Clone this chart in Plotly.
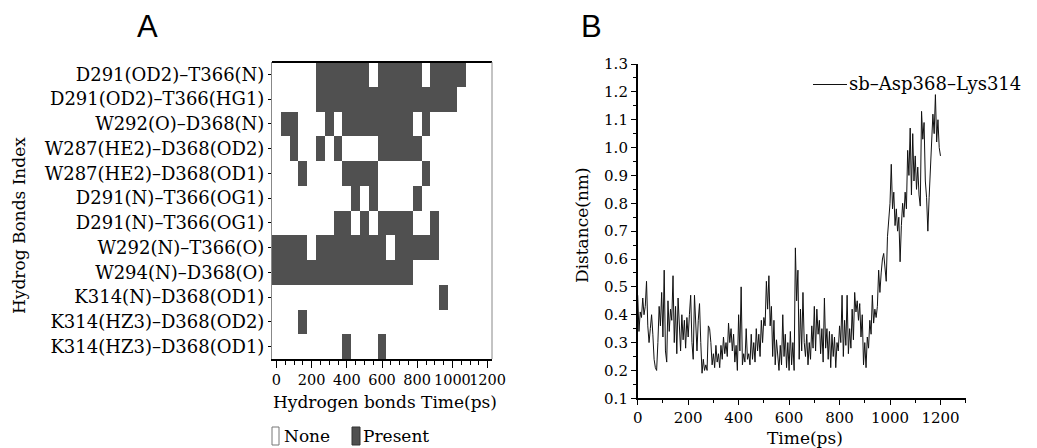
import plotly.graph_objects as go

W, H = 1037, 448
SERIF = "DejaVu Serif"

# ---------------- Panel A data ----------------
bond_labels = [
    "D291(OD2)–T366(N)",
    "D291(OD2)–T366(HG1)",
    "W292(O)–D368(N)",
    "W287(HE2)–D368(OD2)",
    "W287(HE2)–D368(OD1)",
    "D291(N)–T366(OG1)",
    "D291(N)–T366(OG1)",
    "W292(N)–T366(O)",
    "W294(N)–D368(O)",
    "K314(N)–D368(OD1)",
    "K314(HZ3)–D368(OD2)",
    "K314(HZ3)–D368(OD1)",
]
hb_time = list(range(0, 1201, 50))  # bin centres, ps
hb_present = [
    [0,0,0,0,0,1,1,1,1,1,1,0,1,1,1,1,1,0,1,1,1,1,0,0,0],
    [0,0,0,0,0,1,1,1,1,1,1,1,1,1,1,1,1,1,1,1,1,0,0,0,0],
    [0,1,1,0,0,0,1,0,1,1,1,1,1,1,1,1,0,1,0,0,0,0,0,0,0],
    [0,0,1,0,0,1,0,1,0,0,0,0,1,1,1,1,1,0,0,0,0,0,0,0,0],
    [0,0,0,1,0,0,0,0,1,1,1,1,0,0,0,0,0,1,0,0,0,0,0,0,0],
    [0,0,0,0,0,0,0,0,0,1,0,1,0,0,0,0,1,0,0,0,0,0,0,0,0],
    [0,0,0,0,0,0,0,1,1,0,1,0,1,1,1,1,0,0,1,0,0,0,0,0,0],
    [1,1,1,1,0,1,1,1,1,1,1,1,1,0,1,1,1,1,1,0,0,0,0,0,0],
    [1,1,1,1,1,1,1,1,1,1,1,1,1,1,1,1,0,0,0,0,0,0,0,0,0],
    [0,0,0,0,0,0,0,0,0,0,0,0,0,0,0,0,0,0,0,1,0,0,0,0,0],
    [0,0,0,1,0,0,0,0,0,0,0,0,0,0,0,0,0,0,0,0,0,0,0,0,0],
    [0,0,0,0,0,0,0,0,1,0,0,0,1,0,0,0,0,0,0,0,0,0,0,0,0],
]
hb_xticks = [0, 200, 400, 600, 800, 1000, 1200]

# ---------------- Panel B data ----------------
dist_time = list(range(0, 1201, 5))
dist_nm = [
    0.47, 0.34, 0.41, 0.39, 0.46, 0.40, 0.43, 0.52, 0.36, 0.30,
    0.35, 0.40, 0.33, 0.24, 0.21, 0.20, 0.30, 0.43, 0.36, 0.48,
    0.32, 0.56, 0.27, 0.23, 0.45, 0.34, 0.42, 0.38, 0.54, 0.30,
    0.43, 0.26, 0.46, 0.35, 0.27, 0.40, 0.31, 0.38, 0.28, 0.39,
    0.32, 0.40, 0.47, 0.30, 0.24, 0.47, 0.33, 0.27, 0.38, 0.44,
    0.30, 0.19, 0.24, 0.20, 0.22, 0.20, 0.36, 0.35, 0.30, 0.22,
    0.26, 0.21, 0.29, 0.23, 0.26, 0.21, 0.29, 0.24, 0.32, 0.26,
    0.30, 0.25, 0.37, 0.30, 0.35, 0.27, 0.33, 0.23, 0.29, 0.20,
    0.40, 0.27, 0.50, 0.22, 0.26, 0.23, 0.35, 0.24, 0.26, 0.22,
    0.33, 0.24, 0.30, 0.23, 0.35, 0.27, 0.33, 0.25, 0.38, 0.30,
    0.39, 0.36, 0.52, 0.42, 0.54, 0.36, 0.43, 0.25, 0.38, 0.22,
    0.31, 0.25, 0.20, 0.29, 0.22, 0.40, 0.25, 0.33, 0.21, 0.30,
    0.20, 0.34, 0.22, 0.30, 0.20, 0.64, 0.45, 0.56, 0.24, 0.42,
    0.27, 0.48, 0.30, 0.25, 0.33, 0.22, 0.30, 0.24, 0.36, 0.28,
    0.43, 0.27, 0.42, 0.33, 0.38, 0.26, 0.35, 0.23, 0.46, 0.28,
    0.35, 0.24, 0.34, 0.21, 0.33, 0.25, 0.32, 0.21, 0.30, 0.27,
    0.36, 0.30, 0.47, 0.25, 0.38, 0.29, 0.47, 0.26, 0.35, 0.28,
    0.42, 0.31, 0.48, 0.41, 0.45, 0.38, 0.44, 0.32, 0.40, 0.22,
    0.30, 0.21, 0.32, 0.28, 0.38, 0.33, 0.47, 0.37, 0.42, 0.39,
    0.43, 0.56, 0.48, 0.55, 0.60, 0.62, 0.58, 0.52, 0.68, 0.73,
    0.80, 0.94, 0.78, 0.84, 0.72, 0.78, 0.70, 0.75, 0.59, 0.72,
    0.80, 0.75, 0.84, 0.78, 0.99, 0.90, 1.07, 0.83, 1.05, 0.88,
    0.97, 0.85, 0.93, 0.83, 0.79, 1.13, 1.03, 1.09, 0.88, 0.82,
    0.70, 0.82, 0.91, 1.04, 1.12, 1.05, 1.19, 1.02, 1.10, 1.00,
    0.97,
]
dist_xticks = [0, 200, 400, 600, 800, 1000, 1200]
dist_yticks = [0.1, 0.2, 0.3, 0.4, 0.5, 0.6, 0.7, 0.8, 0.9, 1.0, 1.1, 1.2, 1.3]
series_name = "sb–Asp368–Lys314"


def px(x):
    return x / W


def py(y):
    return 1 - y / H


fig = go.Figure()

fig.add_trace(go.Heatmap(
    x=hb_time, y=list(range(len(bond_labels))), z=hb_present,
    colorscale=[[0, "#ffffff"], [1, "#505050"]], zmin=0, zmax=1,
    showscale=False, hoverinfo="skip", xaxis="x", yaxis="y",
))

fig.add_trace(go.Scatter(
    x=dist_time, y=dist_nm, mode="lines", name=series_name,
    line=dict(color="#111111", width=1), xaxis="x2", yaxis="y2",
    showlegend=False,
))

tickfont = dict(family=SERIF, size=15, color="black")

fig.update_layout(
    width=W, height=H, margin=dict(l=0, r=0, t=0, b=0, autoexpand=False),
    paper_bgcolor="white", plot_bgcolor="white",
    font=dict(family=SERIF, color="black"),
    xaxis=dict(
        domain=[px(272), px(492)], anchor="y", range=[-25, 1225],
        tickvals=hb_xticks, ticks="outside", ticklen=7, tickwidth=1,
        tickcolor="black", showline=True, linecolor="black", linewidth=1.5,
        showgrid=False, zeroline=False, tickangle=0, automargin=False,
        tickfont=dict(family=SERIF, size=14.5, color="black"),
        minor=dict(dtick=50, tick0=0, ticks="outside", ticklen=4,
                   tickcolor="black", showgrid=False),
    ),
    yaxis=dict(
        domain=[py(359), py(62)], anchor="x", automargin=False,
        range=[len(bond_labels) - 0.5, -0.5],
        tickvals=list(range(len(bond_labels))), ticktext=bond_labels,
        ticks="outside", ticklen=3, tickcolor="black",
        showline=True, linecolor="#888888", linewidth=1,
        showgrid=False, zeroline=False,
        tickfont=dict(family=SERIF, size=18, color="black"),
    ),
    xaxis2=dict(
        domain=[px(637.7), px(965.7)], anchor="y2", range=[0, 1300],
        tickvals=dist_xticks, ticks="outside", ticklen=5, tickcolor="black",
        showline=True, linecolor="black", linewidth=1.5, tickangle=0,
        showgrid=False, zeroline=False, tickfont=tickfont, automargin=False,
        minor=dict(dtick=100, tick0=0, ticks="outside", ticklen=3,
                   tickcolor="black", showgrid=False),
    ),
    yaxis2=dict(
        domain=[py(398.3), py(64)], anchor="x2", range=[0.1, 1.3],
        tickvals=dist_yticks, tickformat=".1f", ticks="outside", ticklen=5,
        tickcolor="black", showline=True, linecolor="black", linewidth=1.5,
        showgrid=False, zeroline=False, tickfont=tickfont, automargin=False,
        minor=dict(dtick=0.05, tick0=0.1, ticks="outside", ticklen=3,
                   tickcolor="black", showgrid=False),
    ),
    showlegend=False,
)

shapes = [
    # top border of heatmap (thick) and right border (thin grey)
    dict(type="line", xref="paper", yref="paper", x0=px(272), x1=px(492),
         y0=py(62), y1=py(62), line=dict(color="black", width=2)),
    dict(type="line", xref="paper", yref="paper", x0=px(492), x1=px(492),
         y0=py(62), y1=py(359), line=dict(color="#888888", width=1)),
    # legend A symbols
    dict(type="rect", xref="paper", yref="paper", x0=px(272), x1=px(279),
         y0=py(445), y1=py(427), line=dict(color="#777777", width=1),
         fillcolor="white"),
    dict(type="rect", xref="paper", yref="paper", x0=px(352), x1=px(360),
         y0=py(445), y1=py(427), line=dict(color="#333333", width=1),
         fillcolor="#505050"),
    # legend B line sample
    dict(type="line", xref="paper", yref="paper", x0=px(813), x1=px(847),
         y0=py(84.5), y1=py(84.5), line=dict(color="#111111", width=1)),
]


def ann(text, x, y, size, family=SERIF, xanchor="center", angle=0):
    return dict(text=text, x=px(x), y=py(y), xref="paper", yref="paper",
                xanchor=xanchor, yanchor="middle", textangle=angle,
                showarrow=False, font=dict(family=family, size=size, color="black"))


annotations = [
    ann("A", 147, 26, 31, family="Liberation Sans"),
    ann("B", 591, 26, 31, family="Liberation Sans"),
    ann("Hydrog Bonds Index", 19, 226, 17, angle=-90),
    ann("Hydrogen bonds Time(ps)", 385, 402, 17),
    ann("None", 282, 436, 17, xanchor="left"),
    ann("Present", 361, 436, 17, xanchor="left"),
    ann("Distance(nm)", 582, 225, 17, angle=-90),
    ann("Time(ps)", 805, 438, 17),
    ann(series_name, 847, 83, 18, xanchor="left"),
]

fig.update_layout(shapes=shapes, annotations=annotations)
fig.write_html("out.html", config={"displayModeBar": False})

# remove default page margins so the figure sits at the window origin
with open("out.html", "r", encoding="utf-8") as f:
    html = f.read()
html = html.replace(
    "<head>",
    "<head><style>html,body{margin:0;padding:0;overflow:hidden;}</style>", 1)
with open("out.html", "w", encoding="utf-8") as f:
    f.write(html)
